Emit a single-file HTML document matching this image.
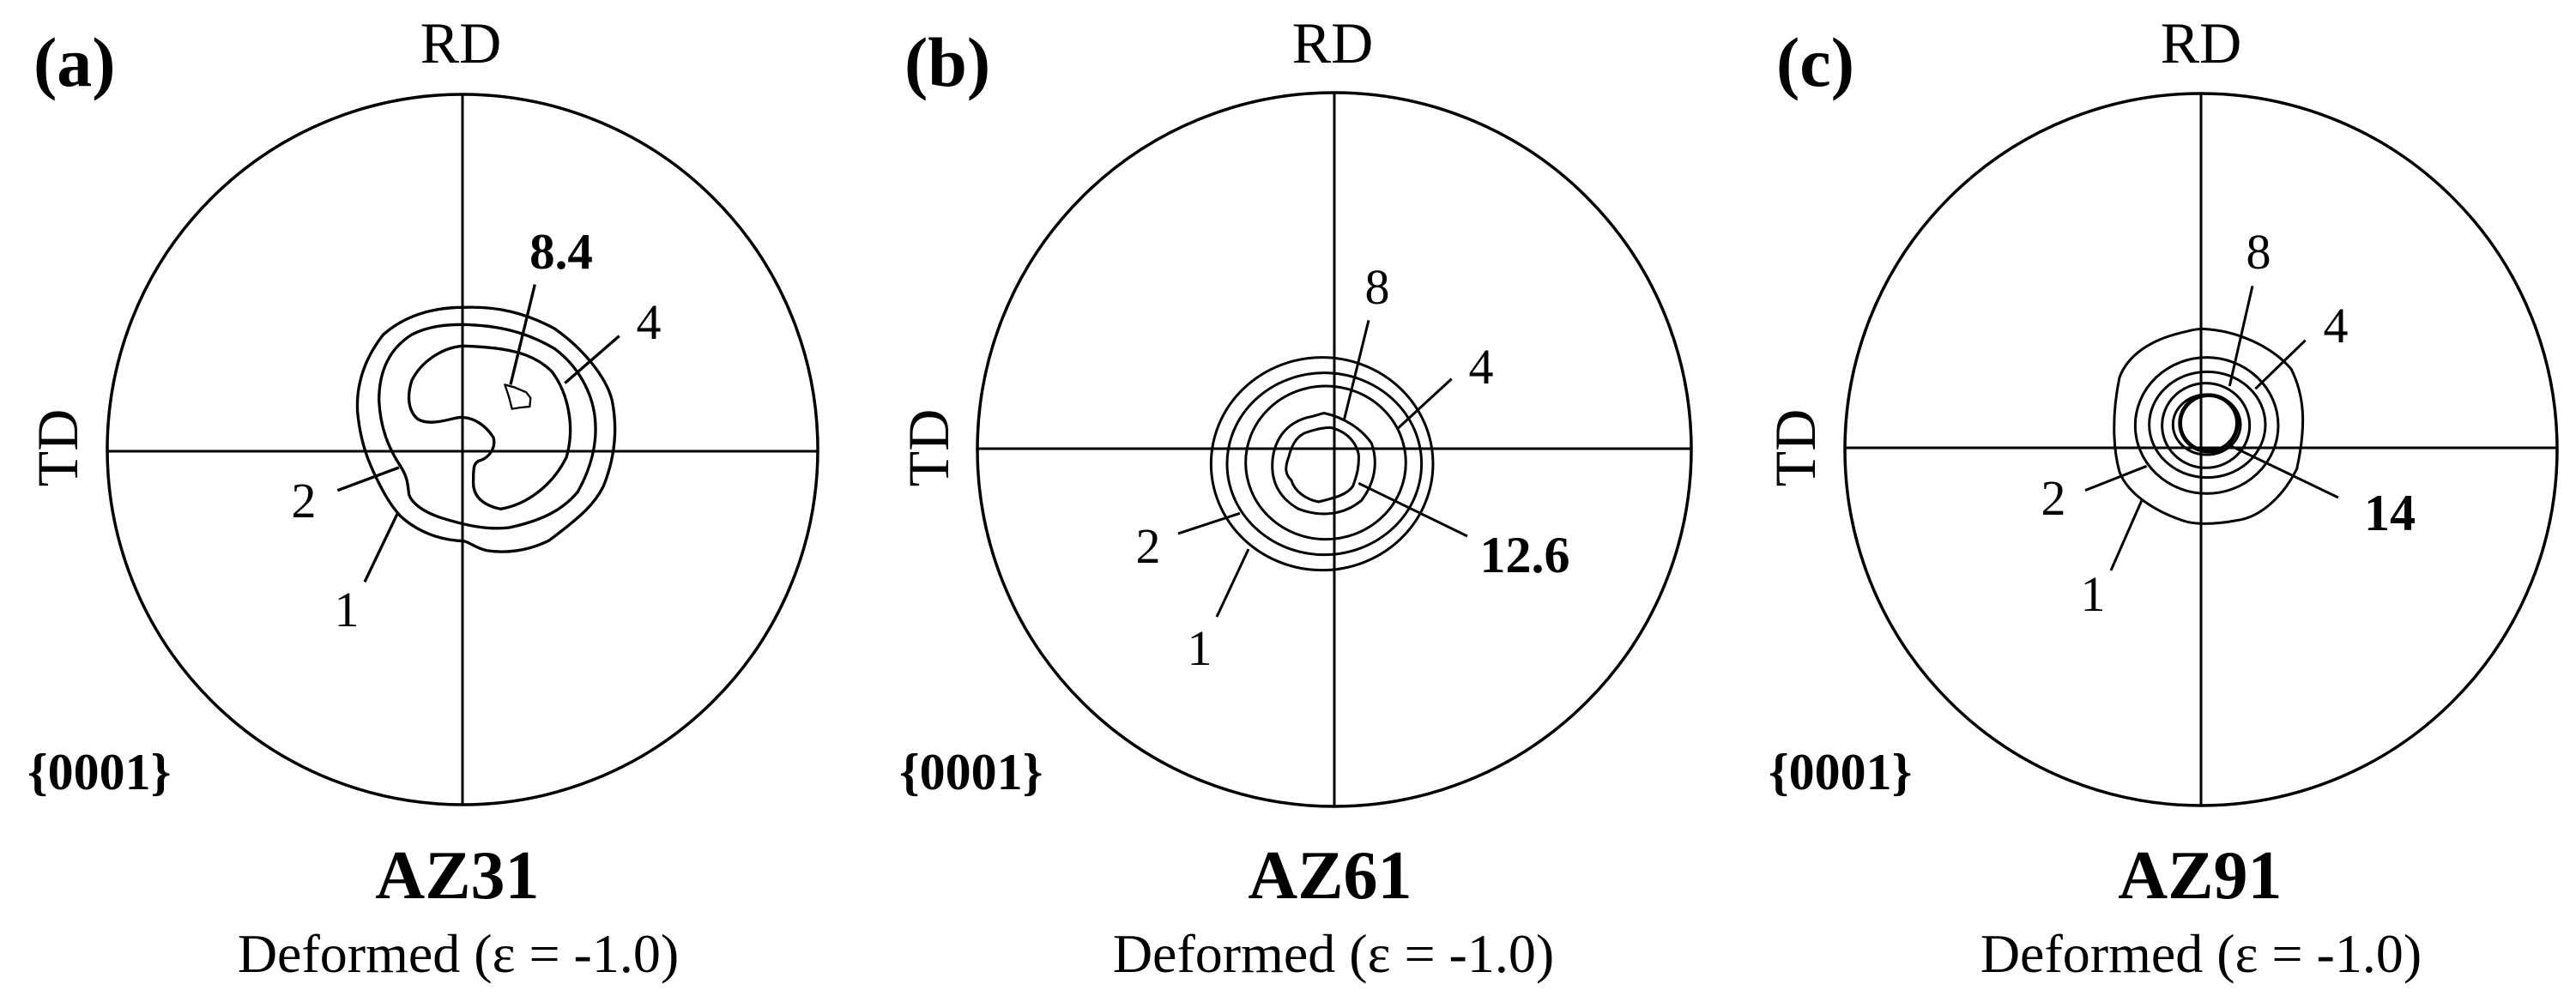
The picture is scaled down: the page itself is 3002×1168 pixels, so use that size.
<!DOCTYPE html>
<html><head><meta charset="utf-8"><style>
html,body{margin:0;padding:0;background:#fff;}
svg{display:block;}
text{font-family:"Liberation Serif","Times New Roman",serif;fill:#000;}
</style></head><body>
<svg width="3002" height="1168" viewBox="0 0 3002 1168" xmlns="http://www.w3.org/2000/svg">
<g fill="none" stroke="#000">
  <!-- panel a -->
  <circle cx="539" cy="524" r="414" stroke-width="3.5"/>
  <line x1="539" y1="110" x2="539" y2="938" stroke-width="3"/>
  <line x1="125" y1="526" x2="953" y2="526" stroke-width="3"/>
  <!-- panel b -->
  <circle cx="1555" cy="524" r="416" stroke-width="3.5"/>
  <line x1="1555" y1="108" x2="1555" y2="940" stroke-width="3"/>
  <line x1="1139" y1="523" x2="1971" y2="523" stroke-width="3"/>
  <!-- panel c -->
  <circle cx="2565" cy="524" r="415" stroke-width="3.5"/>
  <line x1="2565" y1="109" x2="2565" y2="939" stroke-width="3"/>
  <line x1="2150" y1="522" x2="2980" y2="522" stroke-width="3"/>
</g>

<!-- panel a contours (zoom coords) -->
<g transform="translate(380,300) scale(0.3333)" fill="none" stroke="#000" stroke-width="10" stroke-linejoin="round">
  <path d="M480,175 C600,170 700,195 800,250 C900,320 980,420 1000,500 C1020,600 1010,700 970,800 C940,860 900,900 780,990 C700,1030 620,1035 560,1025 C520,1015 500,995 480,992 C400,990 320,960 260,905 C220,860 200,820 180,780 C150,720 120,650 110,540 C105,450 130,360 200,270 C280,200 380,175 480,175 Z"/>
  <path d="M480,235 C600,238 700,260 800,320 C880,380 930,470 940,560 C950,650 925,740 880,820 C830,880 760,920 640,945 C560,955 480,935 400,910 C340,890 300,860 290,830 C285,790 285,770 260,730 C220,670 190,600 185,500 C185,400 220,320 300,270 C360,240 420,235 480,235 Z"/>
  <path d="M480,560 C520,562 560,590 585,630 C595,665 570,700 540,710 C515,715 515,740 515,780 C512,830 540,865 610,880 C700,865 790,800 840,700 C870,600 850,480 790,400 C730,340 650,315 480,310 C400,315 330,370 300,430 C280,490 290,540 320,565 C350,585 400,575 440,565 C460,560 470,558 480,560 Z"/>
  <path d="M625,445 L660,455 L700,472 L715,492 L712,522 L680,525 L650,530 L640,490 Z" stroke-width="7"/>
  <line x1="730" y1="95" x2="645" y2="445"/>
  <line x1="1025" y1="275" x2="835" y2="440"/>
  <line x1="40" y1="815" x2="255" y2="735"/>
  <line x1="135" y1="1135" x2="250" y2="895"/>
</g>

<!-- panel b contours -->
<g transform="translate(1380,300) scale(0.3333)" fill="none" stroke="#000" stroke-width="9" stroke-linejoin="round">
  <ellipse cx="482" cy="722" rx="388" ry="372"/>
  <ellipse cx="490" cy="722" rx="340" ry="318"/>
  <ellipse cx="495" cy="718" rx="280" ry="268"/>
  <path d="M490,545 C560,560 620,600 655,650 C680,720 665,790 620,850 C560,900 480,910 400,880 C330,840 300,780 310,700 C320,630 360,580 430,560 C460,555 480,545 490,545 Z"/>
  <path d="M510,595 C560,605 600,640 610,690 C612,730 605,760 590,800 C570,830 530,840 470,855 C420,845 385,815 375,780 C355,760 350,740 365,700 C375,660 390,630 420,615 C460,600 490,595 510,595 Z"/>
  <line x1="645" y1="220" x2="560" y2="565"/>
  <line x1="935" y1="425" x2="745" y2="600"/>
  <line x1="990" y1="975" x2="610" y2="790"/>
  <line x1="-21" y1="966" x2="195" y2="895"/>
  <line x1="114" y1="1257" x2="225" y2="1020"/>
</g>

<!-- panel c contours -->
<g transform="translate(2400,260) scale(0.3333)" fill="none" stroke="#000" stroke-width="9" stroke-linejoin="round">
  <path d="M500,370 C620,375 740,430 810,510 C855,600 865,700 830,860 C780,960 700,1030 620,1040 C540,1055 470,1055 430,1040 C340,1010 240,950 210,870 C185,780 185,660 210,540 C240,460 320,410 420,385 C460,375 480,370 500,370 Z"/>
  <ellipse cx="515" cy="708" rx="250" ry="238"/>
  <ellipse cx="517" cy="705" rx="203" ry="185"/>
  <ellipse cx="512" cy="708" rx="153" ry="148"/>
  <ellipse cx="515" cy="705" rx="118" ry="105"/>
  <ellipse cx="522" cy="700" rx="100" ry="98" stroke-width="14"/>
  <line x1="675" y1="220" x2="595" y2="570"/>
  <line x1="860" y1="410" x2="685" y2="580"/>
  <line x1="975" y1="960" x2="590" y2="775"/>
  <line x1="90" y1="935" x2="305" y2="850"/>
  <line x1="180" y1="1215" x2="290" y2="965"/>
</g>

<!-- panel a text -->
<text x="39" y="100" font-size="82" font-weight="bold">(a)</text>
<text x="537" y="73" font-size="68" text-anchor="middle">RD</text>
<text transform="translate(90,522) rotate(-90)" font-size="68" text-anchor="middle">TD</text>
<text x="32" y="920" font-size="60" font-weight="bold">{0001}</text>
<text x="533" y="1047" font-size="80" font-weight="bold" text-anchor="middle">AZ31</text>
<text x="534" y="1133" font-size="64" text-anchor="middle">Deformed (ε = -1.0)</text>
<text x="654" y="313" font-size="59" font-weight="bold" text-anchor="middle">8.4</text>
<text x="756" y="395" font-size="58" text-anchor="middle">4</text>
<text x="354" y="603" font-size="58" text-anchor="middle">2</text>
<text x="404" y="730" font-size="58" text-anchor="middle">1</text>

<!-- panel b text -->
<text x="1054" y="100" font-size="82" font-weight="bold">(b)</text>
<text x="1553" y="73" font-size="68" text-anchor="middle">RD</text>
<text transform="translate(1105,522) rotate(-90)" font-size="68" text-anchor="middle">TD</text>
<text x="1048" y="920" font-size="60" font-weight="bold">{0001}</text>
<text x="1550" y="1047" font-size="80" font-weight="bold" text-anchor="middle">AZ61</text>
<text x="1554" y="1133" font-size="64" text-anchor="middle">Deformed (ε = -1.0)</text>
<text x="1605" y="354" font-size="58" text-anchor="middle">8</text>
<text x="1726" y="447" font-size="58" text-anchor="middle">4</text>
<text x="1777" y="667" font-size="60" font-weight="bold" text-anchor="middle">12.6</text>
<text x="1338" y="656" font-size="58" text-anchor="middle">2</text>
<text x="1398" y="775" font-size="58" text-anchor="middle">1</text>

<!-- panel c text -->
<text x="2070" y="100" font-size="82" font-weight="bold">(c)</text>
<text x="2565" y="73" font-size="68" text-anchor="middle">RD</text>
<text transform="translate(2115,522) rotate(-90)" font-size="68" text-anchor="middle">TD</text>
<text x="2061" y="920" font-size="60" font-weight="bold">{0001}</text>
<text x="2564" y="1047" font-size="80" font-weight="bold" text-anchor="middle">AZ91</text>
<text x="2565" y="1133" font-size="64" text-anchor="middle">Deformed (ε = -1.0)</text>
<text x="2632" y="313" font-size="58" text-anchor="middle">8</text>
<text x="2722" y="399" font-size="58" text-anchor="middle">4</text>
<text x="2785" y="618" font-size="60" font-weight="bold" text-anchor="middle">14</text>
<text x="2393" y="600" font-size="58" text-anchor="middle">2</text>
<text x="2439" y="712" font-size="58" text-anchor="middle">1</text>
</svg>
</body></html>
